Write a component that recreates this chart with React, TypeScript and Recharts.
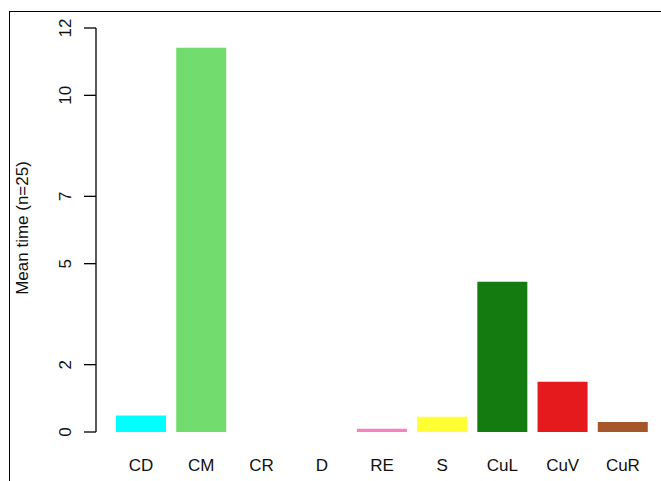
import React from 'react';
import { BarChart, Bar, XAxis, YAxis, Cell } from 'recharts';

const categories = ['CD', 'CM', 'CR', 'D', 'RE', 'S', 'CuL', 'CuV', 'CuR'];
const meanTimes = [0.49, 11.41, 0, 0, 0.1, 0.45, 4.46, 1.49, 0.3];
const barColors = ['#00FFFF', '#72DC6E', '#999999', '#4DAF4A', '#F781BF', '#FFFF33', '#137B0F', '#E41A1C', '#A65628'];
const yTicks = [0, 2, 5, 7, 10, 12];
const yLabel = 'Mean time (n=25)';

const data = categories.map((c, i) => ({ name: c, value: meanTimes[i] }));

const FONT = '"Liberation Sans", Arial, sans-serif';
const FS = 17;

const XTick = (props: any) => {
  const { x, y, payload } = props;
  return (
    <text x={x} y={y + 39} textAnchor="middle" fontFamily={FONT} fontSize={FS} fill="#111">
      {payload.value}
    </text>
  );
};

const YTick = (props: any) => {
  const { y, payload } = props;
  const bx = 71;
  return (
    <text
      x={bx}
      y={y}
      textAnchor="middle"
      fontFamily={FONT}
      fontSize={FS}
      fill="#111"
      transform={`rotate(-90, ${bx}, ${y})`}
    >
      {payload.value}
    </text>
  );
};

const YLabel = () => {
  const bx = 28;
  const cy = 228;
  return (
    <text
      x={bx}
      y={cy}
      textAnchor="middle"
      fontFamily={FONT}
      fontSize={FS}
      fill="#111"
      transform={`rotate(-90, ${bx}, ${cy})`}
    >
      {yLabel}
    </text>
  );
};

export default function App() {
  return (
    <div style={{ position: 'absolute', left: 0, top: 0, width: 661, height: 481, background: '#fff', overflow: 'hidden' }}>
      <div
        style={{
          position: 'absolute',
          left: 9,
          top: 11,
          width: 700,
          height: 500,
          borderLeft: '1.3px solid #000',
          borderTop: '1.3px solid #000',
        }}
      />
      <div style={{ position: 'absolute', left: 0, top: 0 }}>
        <BarChart
          width={661}
          height={481}
          data={data}
          margin={{ top: 28, right: 8, bottom: 19, left: 10 }}
          barSize={50}
        >
          <XAxis
            dataKey="name"
            height={30}
            axisLine={false}
            tickLine={false}
            tickSize={0}
            tickMargin={0}
            padding={{ left: 15, right: 0 }}
            tick={<XTick />}
            interval={0}
          />
          <YAxis
            width={86}
            domain={[0, 12]}
            ticks={yTicks}
            type="number"
            allowDataOverflow
            axisLine={{ stroke: '#000', strokeWidth: 1.3 }}
            tickLine={{ stroke: '#000', strokeWidth: 1.3 }}
            tickSize={12}
            tick={<YTick />}
            label={<YLabel />}
          />
          <Bar dataKey="value" isAnimationActive={false}>
            {data.map((d, i) => (
              <Cell key={d.name} fill={barColors[i]} />
            ))}
          </Bar>
        </BarChart>
      </div>
    </div>
  );
}
